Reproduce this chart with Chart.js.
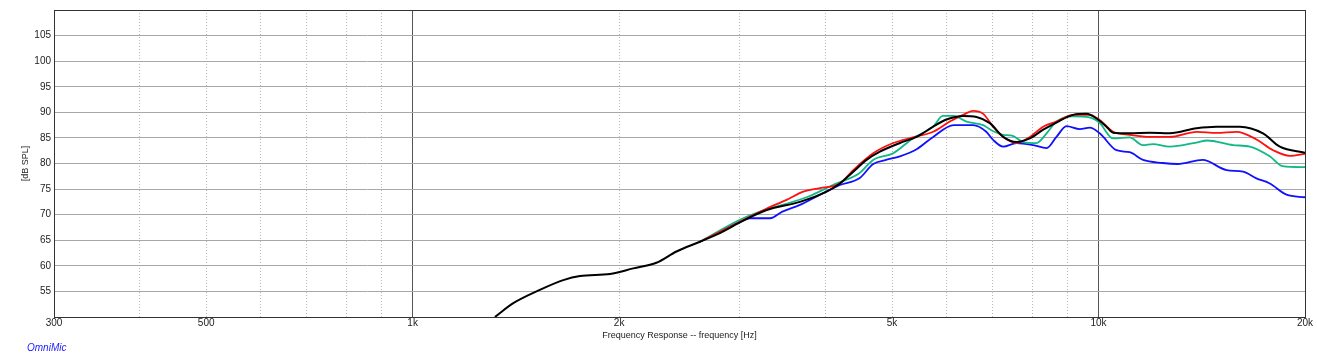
<!DOCTYPE html>
<html>
<head>
<meta charset="utf-8">
<script src="https://cdn.jsdelivr.net/npm/chart.js@4"></script>
<style>
  html, body { margin: 0; padding: 0; background: #fff; }
  #wrap { position: relative; width: 1317px; height: 362px; }
</style>
</head>
<body>
<div id="wrap"><canvas id="fr" width="1317" height="362"></canvas></div>
<script>
// frequency response traces
const blackFreq = [1318, 1402, 1533, 1658, 1754, 1940, 2097, 2267, 2425, 2623, 2805, 3000, 3283, 3670, 4014, 4197, 4389, 4590, 4800, 5133, 5430, 5740, 6003, 6347, 6640, 6943, 7261, 7594, 7942, 8305, 8683, 9181, 9605, 9933, 10270, 10500, 11100, 11880, 12700, 13900, 14860, 16070, 17370, 18380, 20000];
const blackDb = [50.0, 52.7, 55.3, 57.2, 58.0, 58.4, 59.5, 60.6, 62.8, 64.7, 66.4, 68.5, 70.9, 72.5, 74.5, 76.1, 78.4, 80.7, 82.3, 84.0, 85.2, 87.2, 88.6, 89.3, 89.1, 87.9, 85.2, 84.2, 84.9, 86.6, 88.0, 89.5, 89.7, 88.8, 87.2, 86.0, 85.9, 86.0, 85.9, 86.9, 87.2, 87.2, 85.9, 83.3, 82.1];

const redFreq = [2623, 3000, 3283, 3510, 3711, 3925, 4197, 4389, 4693, 5020, 5360, 5740, 6070, 6347, 6565, 6790, 7020, 7261, 7594, 7942, 8305, 8683, 9181, 9700, 10040, 10500, 11100, 11880, 12700, 13900, 14860, 15900, 16990, 17970, 19010, 20000];
const redDb = [64.7, 68.6, 71.2, 72.9, 74.5, 75.2, 76.1, 78.7, 82.0, 84.0, 85.1, 86.2, 88.2, 89.5, 90.3, 89.7, 87.2, 85.2, 84.0, 85.2, 87.2, 88.2, 89.5, 89.5, 88.5, 86.2, 85.6, 85.2, 85.2, 86.2, 86.0, 86.2, 84.7, 82.6, 81.5, 81.9];

const greenFreq = [2623, 3000, 3210, 3460, 3770, 4100, 4480, 4693, 5020, 5360, 5740, 5930, 6150, 6420, 6790, 7000, 7260, 7480, 7760, 8120, 8400, 8683, 9181, 9700, 10040, 10500, 11100, 11600, 12000, 12700, 13900, 14400, 15710, 16620, 17770, 18540, 20000];
const greenDb = [64.7, 69.0, 70.6, 71.9, 73.5, 75.8, 78.1, 80.7, 82.0, 84.9, 87.2, 89.3, 89.3, 88.2, 87.5, 86.4, 85.6, 85.45, 84.2, 84.0, 85.9, 88.2, 89.2, 89.0, 87.9, 84.9, 85.1, 83.6, 83.8, 83.3, 84.1, 84.5, 83.6, 83.3, 81.4, 79.5, 79.3];

const blueFreq = [2623, 3000, 3100, 3320, 3460, 3670, 3925, 4197, 4480, 4693, 4900, 5133, 5430, 5740, 6150, 6565, 6860, 7020, 7261, 7594, 8030, 8400, 8683, 8980, 9390, 9711, 10040, 10620, 11100, 11610, 12400, 13050, 14180, 15370, 16250, 16990, 17770, 18800, 20000];
const blueDb = [64.7, 68.6, 69.3, 69.3, 70.6, 71.9, 73.9, 75.8, 77.1, 79.9, 80.7, 81.4, 82.8, 85.2, 87.5, 87.5, 86.2, 84.6, 83.3, 84.0, 83.6, 83.0, 85.2, 87.3, 86.7, 87.0, 85.9, 82.6, 82.2, 80.7, 80.1, 79.9, 80.7, 78.7, 78.4, 77.1, 76.1, 73.9, 73.4];

// x grid and labels
const xGrid = [300, 400, 500, 600, 700, 800, 900, 1000, 2000, 3000, 4000, 5000, 6000, 7000, 8000, 9000, 10000, 20000];
const xLabels = { 300: '300', 500: '500', 1000: '1k', 2000: '2k', 5000: '5k', 10000: '10k', 20000: '20k' };
const yTicks = [55, 60, 65, 70, 75, 80, 85, 90, 95, 100, 105];

const pts = (f, d) => f.map((v, i) => ({ x: v, y: d[i] }));

function trace(label, f, d, color, w) {
    return {
        label, data: pts(f, d), borderColor: color, borderWidth: w,
        pointRadius: 0, fill: false, cubicInterpolationMode: 'monotone'
    };
}

// frame + footer text
const framePlugin = {
    id: 'frame',
    afterDraw(chart) {
        const { ctx, chartArea: a } = chart;
        ctx.save();
        ctx.strokeStyle = '#333';
        ctx.lineWidth = 1;
        ctx.strokeRect(a.left + 0.5, a.top + 0.5, a.right - a.left, a.bottom - a.top);
        ctx.fillStyle = '#1a1aff';
        ctx.font = 'italic 10px "Liberation Sans", Arial, sans-serif';
        ctx.textBaseline = 'middle';
        ctx.fillText('OmniMic', 27, 348);
        ctx.restore();
    }
};

const isMajor = v => v === 1000 || v === 10000;
const FONT = '"Liberation Sans", Arial, sans-serif';

new Chart(document.getElementById('fr'), {
    type: 'line',
    data: {
        datasets: [
            trace('black', blackFreq, blackDb, '#000000', 2),
            trace('red', redFreq, redDb, '#ff1010', 1.8),
            trace('green', greenFreq, greenDb, '#10b886', 1.8),
            trace('blue', blueFreq, blueDb, '#1010ff', 1.8)
        ]
    },
    options: {
        responsive: false,
        animation: false,
        layout: { padding: { top: 10, right: 12, left: 20, bottom: 21 } },
        plugins: { legend: { display: false }, tooltip: { enabled: false } },
        scales: {
            x: {
                type: 'logarithmic', min: 300, max: 20000,
                afterBuildTicks: s => { s.ticks = xGrid.map(v => ({ value: v })); },
                afterFit: s => { s.height = 24; },
                ticks: {
                    autoSkip: false, maxRotation: 0, padding: 0,
                    color: '#222', font: { family: FONT, size: 10 },
                    callback: v => xLabels[v] || ''
                },
                grid: {
                    drawTicks: false,
                    color: c => isMajor(c.tick && c.tick.value) ? '#555' : '#b8b8b8',
                    lineWidth: 1
                },
                border: {
                    color: '#333',
                    dash: c => (c.tick && !isMajor(c.tick.value)) ? [1, 2] : []
                },
                title: {
                    display: true, text: 'Frequency Response -- frequency [Hz]',
                    color: '#222', padding: { top: 0, bottom: 0 },
                    font: { family: FONT, size: 9 }
                }
            },
            y: {
                min: 50, max: 110,
                afterBuildTicks: s => { s.ticks = yTicks.map(v => ({ value: v })); },
                afterFit: s => { s.width = 34; },
                ticks: {
                    padding: 3, color: '#222',
                    font: { family: FONT, size: 10 }
                },
                grid: { drawTicks: false, color: '#a8a8a8', lineWidth: 1 },
                border: { color: '#333' },
                title: {
                    display: true, text: '[dB SPL]', color: '#222', padding: { top: 0, bottom: 0 },
                    font: { family: FONT, size: 9 }
                }
            }
        }
    },
    plugins: [framePlugin]
});
</script>
</body>
</html>
